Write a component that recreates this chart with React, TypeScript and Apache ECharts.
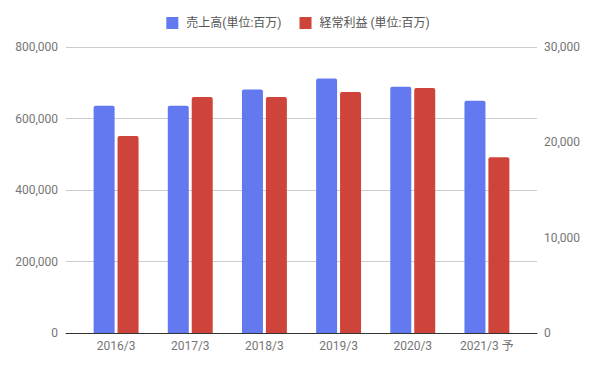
import React, { useEffect, useRef } from "react";
import * as echarts from "echarts";

const categories = ["2016/3", "2017/3", "2018/3", "2019/3", "2020/3", "2021/3 予"];
const salesName = "売上高(単位:百万)";
const profitName = "経常利益 (単位:百万)";
const salesValues = [636000, 636000, 681000, 712000, 689000, 650000];
const profitValues = [20660, 24750, 24750, 25280, 25700, 18430];
const leftTicks = { min: 0, max: 800000, interval: 200000 };
const rightTicks = { min: 0, max: 30000, interval: 10000 };

const FONT = "Roboto, 'Noto Sans CJK JP', sans-serif";
const fmt = (v: number) => v.toLocaleString("en-US");

export default function App() {
  const ref = useRef<HTMLDivElement>(null);
  useEffect(() => {
    if (!ref.current) return;
    const chart = echarts.init(ref.current, undefined, { renderer: "svg" });
    chart.setOption({
      animation: false,
      textStyle: { fontFamily: FONT },
      legend: {
        top: 17,
        left: "center",
        padding: 0,
        itemWidth: 12,
        itemHeight: 12,
        itemGap: 18,
        icon: "rect",
        textStyle: { fontFamily: FONT, fontSize: 12, color: "#555", padding: [0, 0, 0, 3] },
        data: [salesName, profitName],
      },
      grid: [
        { left: 66, right: 59, top: 47, height: 286 },
        { left: 79, right: 72, top: 47, height: 286 },
      ],
      xAxis: [
        {
          gridIndex: 0,
          type: "value",
          min: 0,
          max: 1,
          axisLine: { show: true, lineStyle: { color: "#333", width: 1 } },
          axisTick: { show: false },
          axisLabel: { show: false },
          splitLine: { show: false },
        },
        {
          gridIndex: 1,
          type: "category",
          data: categories,
          axisLine: { show: false },
          axisTick: { show: false },
          axisLabel: { color: "#757575", fontSize: 12, fontFamily: FONT, margin: 7 },
        },
      ],
      yAxis: [
        {
          gridIndex: 0,
          type: "value",
          ...leftTicks,
          axisLine: { show: false },
          axisTick: { show: false },
          axisLabel: { color: "#757575", fontSize: 12, fontFamily: FONT, margin: 8, formatter: fmt },
          splitLine: { show: true, lineStyle: { color: "#cccccc", width: 1 } },
        },
        {
          gridIndex: 0,
          type: "value",
          position: "right",
          ...rightTicks,
          axisLine: { show: false },
          axisTick: { show: false },
          axisLabel: { color: "#757575", fontSize: 12, fontFamily: FONT, margin: 7, formatter: fmt },
          splitLine: { show: false },
        },
        { gridIndex: 1, type: "value", ...leftTicks, show: false, splitLine: { show: false } },
        { gridIndex: 1, type: "value", ...rightTicks, show: false, splitLine: { show: false } },
      ],
      series: [
        {
          name: salesName,
          type: "bar",
          xAxisIndex: 1,
          yAxisIndex: 2,
          data: salesValues,
          barWidth: 21,
          barGap: "14%",
          itemStyle: { color: "#6279f0", borderRadius: [2, 2, 0, 0] },
        },
        {
          name: profitName,
          type: "bar",
          xAxisIndex: 1,
          yAxisIndex: 3,
          data: profitValues,
          barWidth: 21,
          barGap: "14%",
          itemStyle: { color: "#cf443a", borderRadius: [2, 2, 0, 0] },
        },
      ],
    });
    return () => chart.dispose();
  }, []);
  return (
    <div
      ref={ref}
      style={{ position: "fixed", left: 0, top: 0, width: 596, height: 369, background: "#fff" }}
    />
  );
}
